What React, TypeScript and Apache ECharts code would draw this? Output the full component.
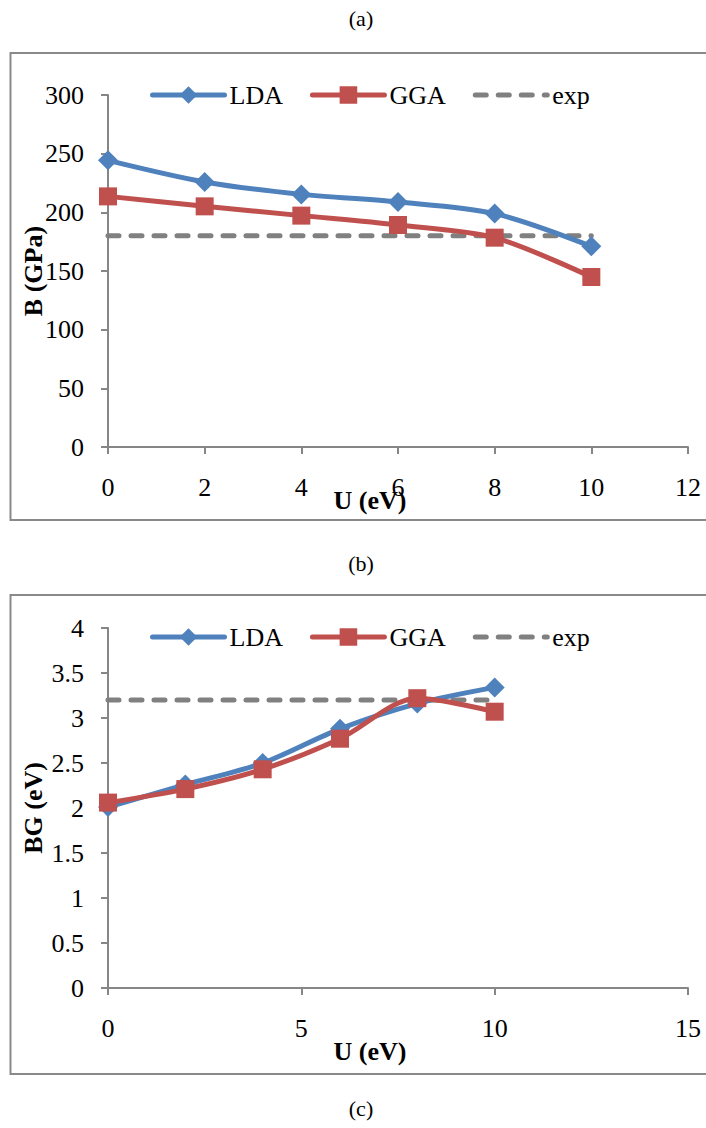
import React, { useEffect, useRef } from "react";
import * as echarts from "echarts";

// Hubbard U values (eV)
const uValues = [0, 2, 4, 6, 8, 10];

// (a) Bulk modulus B (GPa)
const bulkLDA = [244.3, 225.9, 215.3, 208.8, 198.9, 171.0];
const bulkGGA = [213.6, 205.1, 197.2, 189.2, 178.4, 144.9];
const bulkExp = [180, 180, 180, 180, 180, 180];

// (b) Band gap BG (eV)
const gapLDA = [2.01, 2.26, 2.5, 2.88, 3.16, 3.34];
const gapGGA = [2.06, 2.21, 2.43, 2.77, 3.22, 3.07];
const gapExp = [3.2, 3.2, 3.2, 3.2, 3.2, 3.2];

const seriesNames = ["LDA", "GGA", "exp"];
const panelLabels = ["(a)", "(b)", "(c)"];

const FONT = '"Times New Roman", "Liberation Serif", "DejaVu Serif", serif';
const FS = 26;
const AXIS_COLOR = "#868686";
const BLUE = "#4F81BD";
const RED = "#C0504D";
const GREY = "#808080";

const pairs = (ys: number[]) => uValues.map((u, i) => [u, ys[i]]);

function makeAxes(gridIndex: number, xMax: number, xStep: number, yMax: number, yStep: number, yName: string, xNameGap: number) {
  const axisLine = { show: true, lineStyle: { color: AXIS_COLOR, width: 2 } };
  const axisTick = { show: true, inside: false, length: 7, lineStyle: { color: AXIS_COLOR, width: 2 } };
  return {
    x: {
      type: "value",
      gridIndex,
      min: 0,
      max: xMax,
      interval: xStep,
      axisLine,
      axisTick,
      splitLine: { show: false },
      axisLabel: { color: "#000", fontFamily: FONT, fontSize: FS, margin: 27 },
      name: "U (eV)",
      nameLocation: "middle",
      nameGap: xNameGap,
      nameMoveOverlap: false,
      nameTextStyle: {
        color: "#000",
        fontFamily: FONT,
        fontSize: FS,
        fontWeight: "bold",
        padding: [0, 56, 0, 0],
      },
    },
    y: {
      type: "value",
      gridIndex,
      min: 0,
      max: yMax,
      interval: yStep,
      axisLine,
      axisTick,
      splitLine: { show: false },
      axisLabel: { color: "#000", fontFamily: FONT, fontSize: FS, margin: 24 },
      name: yName,
      nameLocation: "middle",
      nameGap: 62,
      nameMoveOverlap: false,
      nameTextStyle: { color: "#000", fontFamily: FONT, fontSize: FS, fontWeight: "bold" },
    },
  };
}

function lineSeries(name: string, idx: number, data: number[][], color: string, symbol: string, symbolSize: number) {
  return {
    type: "line",
    name,
    xAxisIndex: idx,
    yAxisIndex: idx,
    data,
    smooth: 0.3,
    symbol,
    symbolSize,
    showSymbol: true,
    lineStyle: { color, width: 5 },
    itemStyle: { color },
    z: 3,
  };
}

function expSeries(idx: number, data: number[][]) {
  return {
    type: "line",
    name: "exp",
    xAxisIndex: idx,
    yAxisIndex: idx,
    data,
    symbol: "none",
    lineStyle: { color: GREY, width: 5, type: [11, 12], cap: "round" },
    itemStyle: { color: GREY },
    z: 2,
  };
}

function legendFor(top: number) {
  return {
    left: 150,
    top,
    padding: 0,
    itemWidth: 72,
    itemHeight: 22,
    itemGap: 27,
    lineStyle: { width: 5, cap: "round" },
    data: [
      { name: seriesNames[0] },
      { name: seriesNames[1] },
      { name: seriesNames[2], itemStyle: { opacity: 0 } },
    ],
    textStyle: { color: "#000", fontFamily: FONT, fontSize: FS },
  };
}

export default function App() {
  const ref = useRef<HTMLDivElement>(null);

  useEffect(() => {
    if (!ref.current) return;
    const chart = echarts.init(ref.current, undefined, { renderer: "svg" });
    const top = makeAxes(0, 12, 2, 300, 50, "B (GPa)", 40);
    const bottom = makeAxes(1, 15, 5, 4, 0.5, "BG (eV)", 50);

    const option = {
      animation: false,
      backgroundColor: "#fff",
      textStyle: { fontFamily: FONT },
      grid: [
        { left: 108, top: 95, width: 580, height: 352 },
        { left: 108, top: 628, width: 580, height: 360 },
      ],
      xAxis: [top.x, bottom.x],
      yAxis: [top.y, bottom.y],
      legend: [legendFor(82), legendFor(624)],
      graphic: [
        {
          type: "rect",
          shape: { x: 10.5, y: 53, width: 720, height: 467 },
          style: { fill: "none", stroke: "#898989", lineWidth: 2 },
          silent: true,
        },
        {
          type: "rect",
          shape: { x: 10.5, y: 595, width: 720, height: 479 },
          style: { fill: "none", stroke: "#898989", lineWidth: 2 },
          silent: true,
        },
        ...[18, 563, 1108].map((y, i) => ({
          type: "text",
          x: 361,
          y,
          style: {
            text: panelLabels[i],
            fill: "#000",
            font: `22px ${FONT}`,
            textAlign: "center",
            textVerticalAlign: "middle",
          },
        })),
      ],
      series: [
        lineSeries("LDA", 0, pairs(bulkLDA), BLUE, "diamond", 20),
        lineSeries("GGA", 0, pairs(bulkGGA), RED, "rect", 18),
        expSeries(0, pairs(bulkExp)),
        lineSeries("LDA", 1, pairs(gapLDA), BLUE, "diamond", 20),
        lineSeries("GGA", 1, pairs(gapGGA), RED, "rect", 18),
        expSeries(1, pairs(gapExp)),
      ],
    };
    chart.setOption(option as any);
    return () => chart.dispose();
  }, []);

  return (
    <div
      ref={ref}
      style={{ position: "fixed", left: 0, top: 0, width: 706, height: 1128, background: "#fff" }}
    />
  );
}
